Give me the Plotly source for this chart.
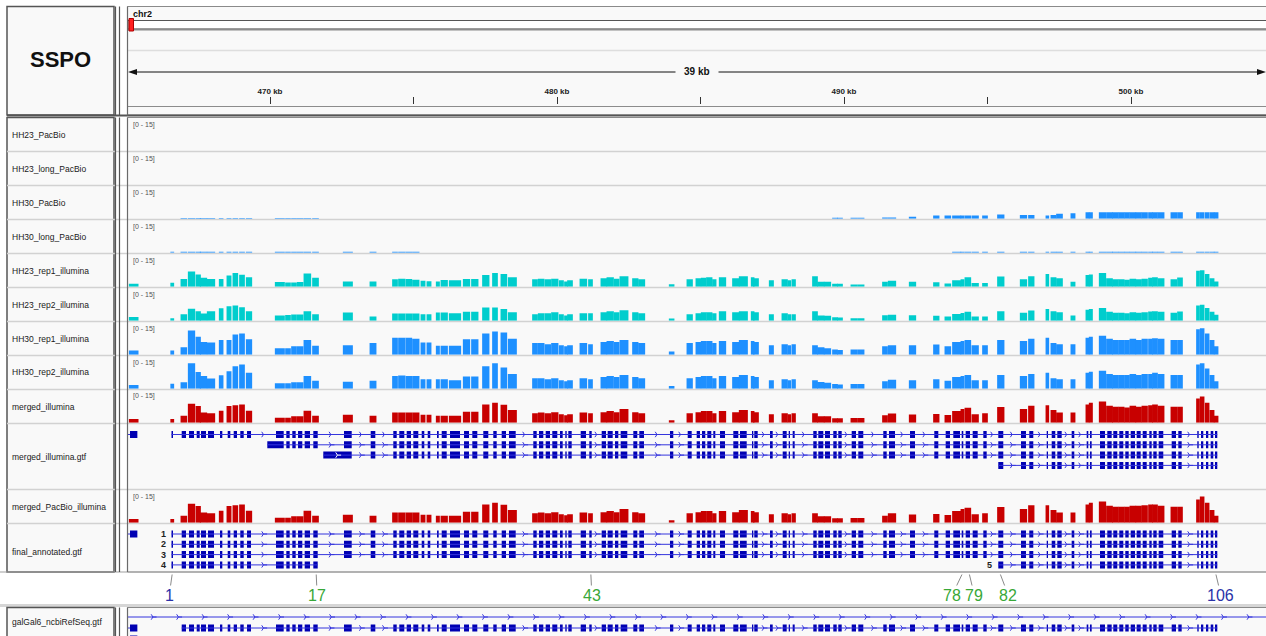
import numpy as np
import plotly.graph_objects as go

W, H = 1266, 636
FONT = "Liberation Sans, Arial, Helvetica, sans-serif"

# ------------------------------------------------------------------ data
CHROM = "chr2"
GENE = "SSPO"
VIEW_KB = [465.052, 504.704]
RULER_TICK_KB = [465, 470, 475, 480, 485, 490, 495, 500]
RULER_TICK_TEXT = ["", "470 kb", "", "480 kb", "", "490 kb", "", "500 kb"]
COV_RANGE = [0, 15]

UPSTREAM_EXON = [465.122, 465.378]

EXON_START = [
    466.568, 466.923, 467.178, 467.446, 467.596, 467.840, 468.258, 468.526, 468.735, 468.965,
    469.199, 470.209, 470.568, 470.777, 470.976, 471.209, 471.509, 472.578, 473.509, 474.296,
    474.505, 474.763, 474.993, 475.286, 475.495, 475.819, 475.983, 476.272, 476.760, 477.049,
    477.432, 477.780, 478.073, 478.327, 479.174, 479.373, 479.606, 479.836, 480.104, 480.289,
    480.394, 480.826, 481.125, 481.557, 481.766, 482.021, 482.219, 482.659, 482.868, 483.937,
    484.554, 484.867, 485.052, 485.237, 485.446, 485.679, 486.143, 486.376, 486.794, 486.874,
    487.422, 487.864, 488.073, 488.212, 488.930, 489.105, 489.338, 489.627, 489.801, 490.268,
    490.498, 491.369, 491.568, 492.300, 493.146, 493.543, 493.808, 494.101, 494.240, 494.484,
    494.854, 495.376, 496.167, 496.456, 497.063, 497.237, 497.432, 497.933, 498.456, 498.571,
    498.920, 499.174, 499.383, 499.592, 499.801, 499.990, 500.198, 500.408, 500.638, 500.777,
    500.965, 501.418, 501.648, 502.310, 502.439, 502.613, 502.777, 502.927]
EXON_END = [
    466.620, 467.073, 467.352, 467.551, 467.770, 468.049, 468.338, 468.617, 468.850, 469.084,
    469.338, 470.477, 470.686, 470.895, 471.125, 471.394, 471.662, 472.847, 473.669, 474.415,
    474.679, 474.913, 475.167, 475.376, 475.585, 475.878, 476.157, 476.620, 476.934, 477.223,
    477.606, 477.899, 478.223, 478.561, 479.293, 479.523, 479.756, 480.010, 480.198, 480.338,
    480.512, 481.010, 481.209, 481.707, 481.941, 482.136, 482.449, 482.798, 483.031, 484.052,
    484.693, 484.982, 485.167, 485.376, 485.516, 485.854, 486.317, 486.610, 486.840, 486.993,
    487.516, 488.003, 488.118, 488.282, 489.049, 489.279, 489.512, 489.746, 489.920, 490.418,
    490.672, 491.488, 491.777, 492.474, 493.286, 493.693, 494.042, 494.157, 494.390, 494.658,
    494.972, 495.550, 496.341, 496.596, 497.108, 497.362, 497.585, 498.024, 498.512, 498.630,
    499.094, 499.327, 499.522, 499.732, 499.920, 500.139, 500.338, 500.547, 500.721, 500.895,
    501.125, 501.568, 501.766, 502.359, 502.519, 502.693, 502.867, 503.006]

# coverage per feature: index 0 = upstream feature, then exons 1..108
HH23_PACBIO = []
HH23_LONG_PACBIO = []
HH30_PACBIO = [
    0.0,
    0.0, 0.3, 0.3, 0.3, 0.3, 0.3, 0.3, 0.3, 0.3, 0.3,
    0.3, 0.3, 0.3, 0.3, 0.3, 0.3, 0.3, 0.0, 0.0, 0.0,
    0.0, 0.0, 0.0, 0.0, 0.0, 0.0, 0.0, 0.0, 0.0, 0.0,
    0.0, 0.0, 0.0, 0.0, 0.0, 0.0, 0.0, 0.0, 0.0, 0.0,
    0.0, 0.0, 0.0, 0.0, 0.0, 0.0, 0.0, 0.0, 0.0, 0.0,
    0.0, 0.0, 0.0, 0.0, 0.0, 0.0, 0.0, 0.0, 0.0, 0.0,
    0.0, 0.0, 0.0, 0.0, 0.0, 0.0, 0.0, 0.4, 0.4, 0.4,
    0.4, 0.6, 0.6, 0.9, 1.5, 1.5, 1.5, 1.5, 1.5, 1.5,
    1.5, 2.0, 1.7, 1.7, 1.5, 1.8, 2.3, 2.6, 3.0, 3.0,
    3.0, 3.0, 3.0, 3.0, 3.0, 3.0, 3.0, 3.0, 3.0, 3.0,
    3.0, 3.0, 3.0, 3.0, 3.0, 3.0, 3.0, 3.0]
HH30_LONG_PACBIO = [
    0.0,
    0.45, 0.45, 0.45, 0.45, 0.45, 0.45, 0.45, 0.45, 0.45, 0.45,
    0.45, 0.45, 0.45, 0.45, 0.45, 0.45, 0.45, 0.45, 0.45, 0.45,
    0.45, 0.45, 0.45, 0.0, 0.0, 0.0, 0.0, 0.0, 0.0, 0.0,
    0.0, 0.0, 0.0, 0.0, 0.0, 0.0, 0.0, 0.0, 0.0, 0.0,
    0.0, 0.0, 0.0, 0.0, 0.0, 0.0, 0.0, 0.0, 0.0, 0.0,
    0.0, 0.0, 0.0, 0.0, 0.0, 0.0, 0.0, 0.0, 0.0, 0.0,
    0.0, 0.0, 0.0, 0.0, 0.0, 0.0, 0.0, 0.0, 0.0, 0.0,
    0.0, 0.0, 0.0, 0.0, 0.0, 0.0, 0.45, 0.45, 0.45, 0.45,
    0.45, 0.45, 0.45, 0.45, 0.45, 0.45, 0.45, 0.45, 0.45, 0.45,
    0.45, 0.45, 0.45, 0.45, 0.45, 0.45, 0.45, 0.45, 0.45, 0.45,
    0.45, 0.45, 0.45, 0.45, 0.45, 0.45, 0.45, 0.45]
HH23_REP1 = [
    1.4,
    1.9, 3.7, 7.2, 5.8, 4.2, 3.6, 3.7, 5.3, 6.5, 5.6,
    4.5, 2.2, 2.0, 2.0, 2.2, 6.2, 4.2, 2.5, 2.5, 3.5,
    3.8, 3.6, 3.3, 2.8, 2.6, 2.5, 3.2, 3.0, 3.7, 3.7,
    5.5, 6.5, 6.0, 4.5, 3.5, 3.8, 3.5, 3.8, 3.0, 2.5,
    3.0, 3.8, 3.5, 4.0, 4.5, 3.8, 5.0, 4.0, 3.5, 1.2,
    3.5, 4.0, 4.2, 4.5, 3.5, 4.5, 4.0, 5.0, 4.5, 4.0,
    3.0, 3.5, 3.0, 3.5, 5.0, 2.3, 2.3, 1.4, 1.4, 1.0,
    1.0, 2.4, 2.8, 2.4, 2.1, 1.5, 3.0, 3.5, 4.5, 1.8,
    1.8, 4.8, 3.5, 5.0, 6.0, 4.5, 4.0, 2.4, 5.5, 5.8,
    6.5, 4.0, 3.5, 3.5, 3.3, 3.8, 3.5, 3.8, 4.2, 4.5,
    4.0, 3.5, 4.3, 7.5, 7.8, 6.0, 4.0, 2.5]
HH23_REP2 = [
    1.8,
    1.2, 3.0, 5.6, 4.5, 3.4, 4.5, 5.9, 6.8, 7.2, 6.4,
    4.5, 2.5, 2.7, 2.9, 2.9, 4.5, 3.0, 3.9, 2.0, 3.4,
    3.4, 3.4, 3.4, 3.0, 3.0, 3.9, 3.9, 3.5, 4.2, 4.2,
    6.2, 6.2, 5.5, 4.0, 3.0, 3.5, 3.5, 4.0, 3.0, 2.5,
    3.0, 3.5, 3.5, 4.0, 4.5, 4.0, 5.0, 4.0, 3.5, 1.0,
    3.0, 3.5, 4.0, 4.0, 3.5, 4.5, 4.0, 4.5, 4.5, 4.0,
    3.0, 3.5, 3.0, 3.0, 4.5, 2.5, 2.3, 1.6, 1.5, 1.2,
    1.2, 2.6, 2.8, 2.6, 2.3, 2.0, 3.2, 3.6, 4.2, 2.0,
    2.0, 4.5, 3.8, 4.8, 5.5, 4.5, 4.0, 2.5, 5.2, 5.5,
    6.0, 4.2, 3.8, 3.8, 3.5, 4.0, 3.8, 4.0, 4.3, 4.5,
    4.2, 3.8, 4.3, 7.2, 7.5, 6.0, 4.2, 2.8]
HH30_REP1 = [
    2.0,
    2.0, 3.5, 11.5, 8.5, 6.0, 5.8, 7.0, 7.0, 9.5, 10.0,
    7.3, 3.0, 3.0, 4.0, 4.0, 7.0, 4.2, 4.5, 5.5, 8.0,
    8.0, 8.0, 7.5, 5.8, 5.8, 4.2, 4.2, 4.2, 7.3, 7.3,
    10.0, 11.0, 10.5, 7.5, 5.5, 5.5, 5.0, 5.5, 4.5, 4.0,
    4.5, 5.5, 5.0, 6.0, 6.5, 6.0, 7.0, 6.0, 5.5, 1.5,
    5.5, 6.0, 6.5, 6.5, 5.5, 6.5, 6.0, 7.0, 6.5, 6.0,
    4.5, 5.0, 4.5, 5.0, 4.5, 3.5, 3.0, 2.5, 2.2, 2.5,
    2.5, 4.0, 4.5, 4.5, 4.8, 4.0, 6.0, 6.5, 7.0, 4.5,
    4.5, 7.0, 6.5, 7.5, 8.0, 5.5, 5.0, 5.0, 8.0, 8.5,
    9.0, 7.5, 7.0, 7.0, 7.0, 7.5, 7.0, 7.5, 7.5, 7.8,
    7.5, 7.0, 7.0, 12.0, 12.5, 10.0, 7.0, 4.0]
HH30_REP2 = [
    1.8,
    2.3, 3.0, 12.0, 7.9, 6.0, 4.8, 6.4, 8.3, 10.6, 11.4,
    7.6, 2.6, 2.6, 3.0, 3.0, 6.0, 3.8, 3.3, 3.8, 6.0,
    6.2, 6.0, 6.0, 4.5, 4.5, 4.5, 4.5, 4.0, 5.8, 5.8,
    10.6, 12.0, 10.0, 7.0, 5.0, 5.0, 4.5, 5.0, 4.0, 3.5,
    4.0, 5.0, 4.5, 5.5, 6.0, 5.5, 6.5, 5.5, 5.0, 1.3,
    5.0, 5.5, 6.0, 6.0, 5.0, 6.0, 5.5, 6.5, 6.0, 5.5,
    4.0, 4.5, 4.0, 4.5, 4.0, 3.2, 2.8, 2.2, 2.0, 2.2,
    2.2, 3.5, 4.2, 4.0, 4.5, 3.8, 5.5, 6.0, 6.5, 4.0,
    4.0, 6.5, 6.0, 7.0, 7.5, 5.0, 4.5, 4.5, 7.5, 8.0,
    8.5, 7.0, 6.5, 6.5, 6.5, 7.0, 6.5, 7.0, 7.0, 7.5,
    7.0, 6.5, 6.5, 11.5, 12.0, 9.5, 6.5, 3.5]
MERGED_ILLUMINA = [
    1.8,
    1.8, 3.3, 9.0, 7.9, 4.8, 4.5, 5.6, 7.9, 8.3, 8.6,
    5.6, 2.3, 2.3, 3.0, 3.0, 5.6, 3.3, 3.8, 3.3, 4.8,
    4.8, 4.8, 4.8, 3.8, 3.8, 3.3, 3.3, 3.3, 5.2, 5.2,
    8.6, 9.4, 8.5, 6.0, 4.5, 4.8, 4.5, 5.0, 4.0, 3.5,
    4.0, 4.8, 4.5, 5.0, 5.5, 5.0, 6.5, 5.0, 4.5, 1.2,
    4.5, 5.0, 5.5, 5.5, 4.5, 5.5, 5.0, 6.0, 5.5, 5.0,
    4.0, 4.5, 4.0, 4.5, 4.5, 3.0, 3.0, 2.1, 2.1, 2.2,
    2.2, 3.5, 4.3, 3.9, 4.1, 3.6, 5.5, 6.5, 7.1, 4.0,
    4.5, 7.4, 6.5, 8.0, 8.2, 6.0, 4.8, 4.8, 8.6, 9.4,
    10.0, 8.0, 7.5, 7.5, 7.2, 8.0, 7.5, 8.0, 8.3, 8.6,
    8.0, 7.5, 7.5, 11.5, 12.4, 9.4, 6.0, 3.3]
MERGED_PACBIO_ILLUMINA = [
    1.8,
    1.8, 3.3, 9.0, 7.9, 4.8, 4.5, 5.6, 7.9, 8.3, 8.6,
    5.6, 2.3, 2.3, 3.0, 3.0, 5.6, 3.3, 3.8, 3.3, 4.8,
    4.8, 4.8, 4.8, 3.8, 3.8, 3.3, 3.3, 3.3, 5.2, 5.2,
    8.6, 9.4, 8.5, 6.0, 4.5, 4.8, 4.5, 5.0, 4.0, 3.5,
    4.0, 4.8, 4.5, 5.0, 5.5, 5.0, 6.5, 5.0, 4.5, 1.2,
    4.5, 5.0, 5.5, 5.5, 4.5, 5.5, 5.0, 6.0, 5.5, 5.0,
    4.0, 4.5, 4.0, 4.5, 4.5, 3.0, 3.0, 2.1, 2.1, 2.2,
    2.2, 3.3, 4.5, 3.9, 4.1, 3.6, 5.5, 6.5, 7.1, 4.0,
    4.5, 7.4, 6.5, 8.2, 8.2, 6.0, 4.8, 4.8, 8.6, 9.4,
    10.0, 8.0, 7.5, 7.5, 7.5, 8.0, 8.0, 8.3, 8.6, 8.6,
    8.0, 7.5, 7.5, 11.0, 12.4, 9.4, 6.0, 3.3]

# transcript models: (row, first exon, last exon, extended start of first block or None)
MERGED_GTF_TX = [(0, 1, 108, None), (1, 12, 108, 469.906), (2, 18, 108, 471.857), (3, 82, 108, None)]
MERGED_GTF_UPSTREAM_ROWS = [0]
FINAL_GTF_TX = [("1", 0, 1, 108), ("2", 1, 1, 108), ("3", 2, 1, 108), ("4", 3, 1, 17), ("5", 3, 82, 108)]
FINAL_GTF_UPSTREAM_ROWS = [0]
REFSEQ_SPAN_ROWS = [0]
REFSEQ_TX = [(1, 2, 108)]
REFSEQ_UPSTREAM_ROWS = [1, 2]

EXON_LABELS = ["1", "17", "43", "78", "79", "82", "106"]
EXON_LABEL_KB = [466.59, 471.61, 481.18, 494.11, 494.37, 495.45, 502.96]

TRACK_ORDER = ["HH23_PacBio", "HH23_long_PacBio", "HH30_PacBio", "HH30_long_PacBio",
               "HH23_rep1_illumina", "HH23_rep2_illumina", "HH30_rep1_illumina",
               "HH30_rep2_illumina", "merged_illumina", "merged_illumina.gtf",
               "merged_PacBio_illumina", "final_annotated.gtf"]
COVERAGE = {
    "HH23_PacBio": HH23_PACBIO, "HH23_long_PacBio": HH23_LONG_PACBIO,
    "HH30_PacBio": HH30_PACBIO, "HH30_long_PacBio": HH30_LONG_PACBIO,
    "HH23_rep1_illumina": HH23_REP1, "HH23_rep2_illumina": HH23_REP2,
    "HH30_rep1_illumina": HH30_REP1, "HH30_rep2_illumina": HH30_REP2,
    "merged_illumina": MERGED_ILLUMINA, "merged_PacBio_illumina": MERGED_PACBIO_ILLUMINA,
}
REFSEQ_NAME = "galGal6_ncbiRefSeq.gtf"

# ------------------------------------------------------------------ style
TRACK_COLOR = {
    "HH30_PacBio": "#1E90FF", "HH30_long_PacBio": "#1E90FF",
    "HH23_rep1_illumina": "#00CDCD", "HH23_rep2_illumina": "#00CDCD",
    "HH30_rep1_illumina": "#1E90FF", "HH30_rep2_illumina": "#1E90FF",
    "merged_illumina": "#C80000", "merged_PacBio_illumina": "#C80000",
}
FEATURE_COLOR = "#0000B2"
INTRON_COLOR = "#3535DD"
PANEL_BG = "#F9F9F9"
BORDER = "#555555"
SEP = "#D2D2D2"
BLUE_LABEL = "#2A32A8"
GREEN_LABEL = "#38A838"
LABEL_NUDGE_PX = {"1": -3, "17": 1, "43": 1, "78": -10, "79": 5, "82": 8, "106": 5}
COV_H = 34
COV_PAD_KB = 0.04
GTF_H = {"merged_illumina.gtf": 66, "final_annotated.gtf": 48.5}
GTF_FIRST_ROW_PX = {"merged_illumina.gtf": 11.0, "final_annotated.gtf": 10.5}
ROW_PX = 10.3
EXON_H_PX = 7.0
MIN_ARROW_GAP_KB = 0.33
SPAN_ARROW_STEP_KB = 0.888

X0 = 128  # left edge of data panel (px)


def px(x):
    return x / W


def py(y):
    return 1 - y / H


fig = go.Figure()
shapes, annotations, axes = [], [], {}


def add_axis(top, bottom, rng):
    n = len(axes) + 1
    key = "yaxis" if n == 1 else f"yaxis{n}"
    axes[key] = dict(domain=[max(0.0, py(bottom)), min(1.0, py(top))], range=rng,
                     visible=False, fixedrange=True, anchor="x")
    return "y" if n == 1 else f"y{n}"


def rect(x0, y0, x1, y1, fill=None, line=BORDER, lw=1.0, layer="below"):
    shapes.append(dict(type="rect", xref="paper", yref="paper", x0=px(x0), x1=px(x1),
                       y0=py(y1), y1=py(y0), fillcolor=fill or "rgba(0,0,0,0)",
                       line=dict(color=line, width=lw), layer=layer))


def hline(y, x0, x1, color, lw=1.0, layer="below"):
    shapes.append(dict(type="line", xref="paper", yref="paper", x0=px(x0), x1=px(x1),
                       y0=py(y), y1=py(y), line=dict(color=color, width=lw), layer=layer))


def vline(x, y0, y1, color, lw=1.0, layer="above"):
    shapes.append(dict(type="line", xref="paper", yref="paper", x0=px(x), x1=px(x),
                       y0=py(y0), y1=py(y1), line=dict(color=color, width=lw), layer=layer))


def text(x, y, s, size, color="#111", bold=False, xanchor="left", xref="paper", yref="paper",
         **kw):
    annotations.append(dict(x=x, y=y, xref=xref, yref=yref, text=s, showarrow=False,
                            xanchor=xanchor, yanchor="middle",
                            font=dict(family=FONT, size=size, color=color,
                                      weight="bold" if bold else "normal"), **kw))


exon_s = np.array(EXON_START)
exon_e = np.array(EXON_END)


def blocks_for(first, last, start_override=None):
    b = [[exon_s[i - 1], exon_e[i - 1]] for i in range(first, last + 1)]
    if start_override is not None:
        b[0][0] = start_override
    return b


def draw_gene_track(yref, row_list, upstream_rows, span_rows, half):
    lx, ly, ax_, ay_, bx, bw, bb, wx, wy = [], [], [], [], [], [], [], [], []
    for row, blocks in row_list:
        lx += [blocks[0][0], blocks[-1][1], None]
        ly += [row, row, None]
        for (s0, e0), (s1, e1) in zip(blocks[:-1], blocks[1:]):
            if s1 - e0 > MIN_ARROW_GAP_KB:
                ax_.append((e0 + s1) / 2)
                ay_.append(row)
        for s, e in blocks:
            bx.append((s + e) / 2)
            bw.append(e - s)
            bb.append(row - half)
            if e - s > 0.8:
                wx.append((s + e) / 2)
                wy.append(row)
    for row in upstream_rows:
        lx += [VIEW_KB[0] - 0.5, UPSTREAM_EXON[0], None]
        ly += [row, row, None]
        bx.append(sum(UPSTREAM_EXON) / 2)
        bw.append(UPSTREAM_EXON[1] - UPSTREAM_EXON[0])
        bb.append(row - half)
    for row in span_rows:
        lx += [VIEW_KB[0] - 1, VIEW_KB[1] + 1, None]
        ly += [row, row, None]
        for a in np.arange(VIEW_KB[0] + 0.87, VIEW_KB[1], SPAN_ARROW_STEP_KB):
            ax_.append(a)
            ay_.append(row)
    fig.add_trace(go.Scatter(x=lx, y=ly, mode="lines", yaxis=yref, hoverinfo="skip",
                             line=dict(color=INTRON_COLOR, width=1)))
    fig.add_trace(go.Scatter(x=ax_, y=ay_, mode="markers", yaxis=yref, hoverinfo="skip",
                             marker=dict(symbol="y-right", size=4.5, color=INTRON_COLOR,
                                         line=dict(color=INTRON_COLOR, width=1))))
    fig.add_trace(go.Bar(x=bx, y=[2 * half] * len(bx), base=bb, width=bw, yaxis=yref,
                         hoverinfo="skip", marker=dict(color=FEATURE_COLOR, line=dict(width=0))))
    if wx:
        fig.add_trace(go.Scatter(x=wx, y=wy, mode="markers", yaxis=yref, hoverinfo="skip",
                                 marker=dict(symbol="y-right", size=4.5, color="white",
                                             line=dict(color="white", width=1))))


def gene_axis(top, bottom, first_row_px, row_px):
    total = (bottom - top) / row_px
    r0 = -first_row_px / row_px
    return add_axis(top, bottom, [r0 + total, r0])


# ------------------------------------------------------------------ panels
MAIN_TOP, MAIN_BOTTOM = 117.5, 572
rect(7, 6.5, 114, 115, fill=PANEL_BG, lw=1.5)
rect(127.5, 6.5, W + 2, 115, fill=PANEL_BG, line="#8a8a8a", lw=1)
rect(7, MAIN_TOP, 114, MAIN_BOTTOM, fill=PANEL_BG, lw=1.5)
rect(127.5, MAIN_TOP, W + 2, MAIN_BOTTOM, fill=PANEL_BG, line="#8a8a8a", lw=1)
hline(115.5, 7, W, BORDER, 2)
hline(MAIN_BOTTOM, 0, W, "#A0A0A0", 1.2)
hline(605.5, 0, W, "#D6D6D6", 3)
rect(7, 607.5, 114, H + 5, fill=PANEL_BG, lw=1.5)
rect(127.5, 607.5, W + 2, H + 5, fill=PANEL_BG, line="#8a8a8a", lw=1)
for (a, b) in [(6.5, 115.5), (MAIN_TOP, MAIN_BOTTOM), (607.5, H)]:
    vline(115.5, a, b, BORDER, 1.2)
    vline(119.5, a, b, BORDER, 1.2)
    vline(127.5, a, b, "#6a6a6a", 1.2)

text(60.5 / W, py(60), f"<b>{GENE}</b>", 22, "#111", xanchor="center")

# ideogram + span arrow
text(px(131), py(14), CHROM, 9, "#111", bold=True)
rect(X0, 20.5, W + 2, 29, fill="white", line="#555", lw=1)
hline(29.5, X0, W, "#8c8c8c", 2)
rect(129, 18.5, 133.5, 31, fill="#FF2020", line="#B00000", lw=1, layer="above")
hline(50.5, X0, W, "#DEDEDE", 1.5)
span_txt = f"{int(VIEW_KB[1] - VIEW_KB[0])} kb"
hline(72, 133, W - 5, "#111", 1)
shapes.append(dict(type="path", xref="paper", yref="paper", fillcolor="#111", line=dict(width=0),
                   path=f"M {px(X0)},{py(72)} L {px(X0 + 9)},{py(69)} L {px(X0 + 9)},{py(75)} Z"))
shapes.append(dict(type="path", xref="paper", yref="paper", fillcolor="#111", line=dict(width=0),
                   path=f"M {px(W)},{py(72)} L {px(W - 9)},{py(69)} L {px(W - 9)},{py(75)} Z"))
annotations.append(dict(x=0.5 * (px(X0) + 1), y=py(72), xref="paper", yref="paper",
                        text=span_txt, showarrow=False, bgcolor=PANEL_BG, borderpad=8,
                        xanchor="center", yanchor="middle",
                        font=dict(family=FONT, size=10, color="#111", weight="bold")))
hline(106.5, X0, W, "#8c8c8c", 1)

# ------------------------------------------------------------------ tracks
y = MAIN_TOP
cov_label = f"[{COV_RANGE[0]} - {COV_RANGE[1]}]"
for name in TRACK_ORDER:
    if name in COVERAGE:
        h = COV_H
        top, bot = y, y + h
        yref = add_axis(top + 1.5, bot - 0.8, COV_RANGE)
        vals = np.array([v for v in COVERAGE[name]], dtype=float)
        if len(vals):
            xs = np.concatenate([[sum(UPSTREAM_EXON) / 2], (exon_s + exon_e) / 2])
            ws = np.concatenate([[UPSTREAM_EXON[1] - UPSTREAM_EXON[0]], exon_e - exon_s])
            ws = ws + 2 * COV_PAD_KB
            keep = vals > 0
            fig.add_trace(go.Bar(x=xs[keep], y=vals[keep], width=ws[keep], yaxis=yref,
                                 hoverinfo="skip",
                                 marker=dict(color=TRACK_COLOR[name], line=dict(width=0))))
        text(px(131), py(top + 7), cov_label, 7, "#555")
        text(px(10), py(top + h / 2), name, 8.5, "#1a1a1a")
    else:
        h = GTF_H[name]
        top, bot = y, y + h
        yref = gene_axis(top, bot, GTF_FIRST_ROW_PX[name], ROW_PX)
        half = EXON_H_PX / 2 / ROW_PX
        if name == "merged_illumina.gtf":
            rows = [(r, blocks_for(f, l, so)) for r, f, l, so in MERGED_GTF_TX]
            draw_gene_track(yref, rows, MERGED_GTF_UPSTREAM_ROWS, [], half)
            text(px(10), py(top + h / 2), name, 8.5, "#1a1a1a")
        else:
            rows = [(r, blocks_for(f, l)) for _, r, f, l in FINAL_GTF_TX]
            draw_gene_track(yref, rows, FINAL_GTF_UPSTREAM_ROWS, [], half)
            for lab, r, f, l in FINAL_GTF_TX:
                annotations.append(dict(x=exon_s[f - 1], y=r, xref="x", yref=yref, text=lab,
                                        showarrow=False, xanchor="right", xshift=-4,
                                        yanchor="middle",
                                        font=dict(family=FONT, size=9, color="#222",
                                                  weight="bold")))
            text(px(10), py(552), name, 8.5, "#1a1a1a")
    if bot < MAIN_BOTTOM - 1:
        hline(bot, 7, W, SEP, 1.5)
    y = bot

# refseq track in lower panel
ref_ax = gene_axis(607.5, H, 9.5, 11.0)
draw_gene_track(ref_ax, [(r, blocks_for(f, l)) for r, f, l in REFSEQ_TX],
                REFSEQ_UPSTREAM_ROWS, REFSEQ_SPAN_ROWS, EXON_H_PX / 2 / 11.0)
text(px(10), py(621.5), REFSEQ_NAME, 8.5, "#1a1a1a")

# exon number call-outs
for lab, kb in zip(EXON_LABELS, EXON_LABEL_KB):
    col = BLUE_LABEL if lab in (EXON_LABELS[0], EXON_LABELS[-1]) else GREEN_LABEL
    annotations.append(dict(x=kb, y=py(574.5), xref="x", yref="paper", text=lab,
                            showarrow=True, arrowhead=0, arrowwidth=1, arrowcolor="#8a8a8a",
                            ax=LABEL_NUDGE_PX[lab], ay=21, standoff=0,
                            font=dict(family=FONT, size=16, color=col)))

fig.update_layout(
    width=W, height=H, margin=dict(l=0, r=0, t=0, b=0),
    paper_bgcolor="white", plot_bgcolor="rgba(0,0,0,0)",
    showlegend=False, barmode="overlay", hovermode=False,
    shapes=shapes, annotations=annotations,
    xaxis=dict(domain=[px(X0), 1.0], range=VIEW_KB, anchor="free", position=py(104),
               side="top", showgrid=False, zeroline=False, showline=False,
               ticks="outside", ticklen=7, tickwidth=1, tickcolor="#333",
               tickvals=RULER_TICK_KB, ticktext=RULER_TICK_TEXT, fixedrange=True,
               tickfont=dict(family=FONT, size=8, color="#222", weight="bold")),
    **axes,
)
fig.write_html("out.html", config={"displayModeBar": False, "staticPlot": True},
               post_script="document.body.style.margin='0';document.body.style.padding='0';document.body.style.overflow='hidden';")
